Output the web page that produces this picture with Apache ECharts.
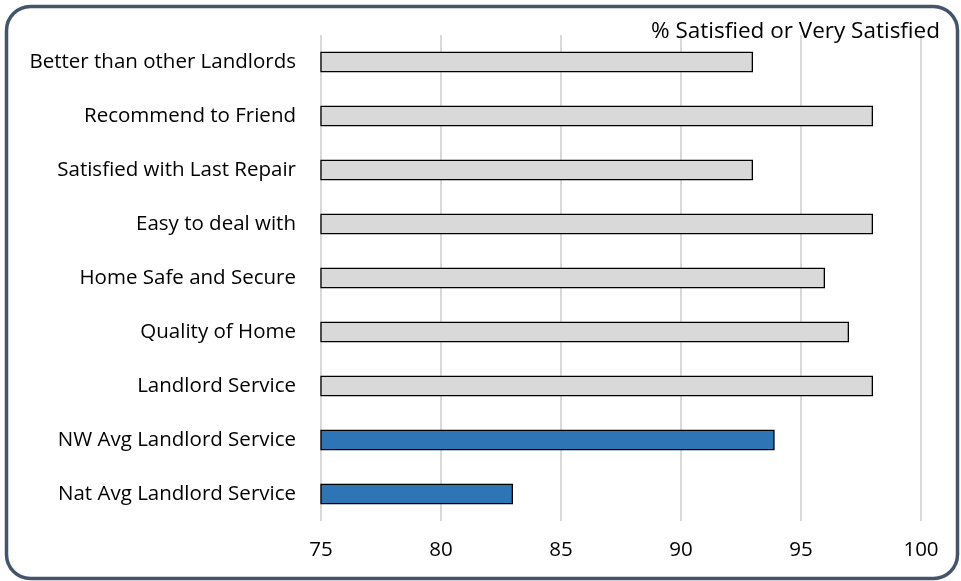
<!DOCTYPE html>
<html><head><meta charset="utf-8">
<script src="https://cdn.jsdelivr.net/npm/echarts@6/dist/echarts.min.js"></script>
<style>html,body{margin:0;padding:0;background:#fff}#c{width:961px;height:581px}</style>
</head><body><div id="c"></div>
<script>
const categories = ["Better than other Landlords","Recommend to Friend","Satisfied with Last Repair","Easy to deal with","Home Safe and Secure","Quality of Home","Landlord Service","NW Avg Landlord Service","Nat Avg Landlord Service"];
const values = [93, 98, 93, 98, 96, 97, 98, 93.9, 83];
const highlighted = [false,false,false,false,false,false,false,true,true];
const xTicks = [75, 80, 85, 90, 95, 100];
const titleText = "% Satisfied or Very Satisfied";

const FONT = "Open Sans";
const chart = echarts.init(document.getElementById('c'), null, {renderer:'canvas'});
chart.setOption({
  animation:false,
  textStyle:{fontFamily:FONT},
  title:{text:titleText, right:16, top:15, textStyle:{fontFamily:FONT, fontSize:22.5, fontWeight:'normal', color:'#000'}},
  graphic:[{type:'rect', left:4, top:4, shape:{width:951, height:572, r:24}, style:{fill:null, stroke:'#44546a', lineWidth:3.5}, z:100}],
  grid:{left:321, right:40, top:35, bottom:60, containLabel:false},
  xAxis:{type:'value', min:xTicks[0], max:xTicks[xTicks.length-1], interval:5,
    axisLine:{show:false}, axisTick:{show:false},
    splitLine:{lineStyle:{color:'#d9d9d9', width:2}},
    axisLabel:{fontSize:20.5, color:'#000', margin:19, fontFamily:FONT}},
  yAxis:{type:'category', inverse:true, data:categories,
    axisLine:{show:false}, axisTick:{show:false},
    axisLabel:{fontSize:20.5, color:'#000', margin:25, fontFamily:FONT}},
  series:[{type:'bar', barWidth:'38%',
    data: values.map((v,i)=>({value:v, itemStyle:{color: highlighted[i] ? '#2e75b6' : '#d9d9d9'}})),
    itemStyle:{borderColor:'#000', borderWidth:1.3}}]
});
</script></body></html>
